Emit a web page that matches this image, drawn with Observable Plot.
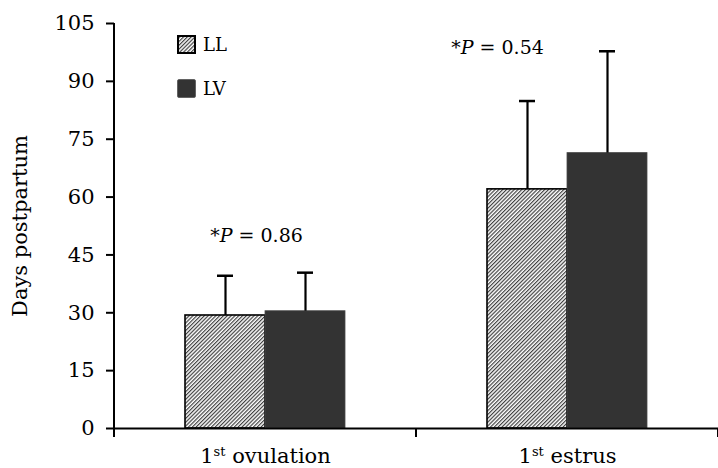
<!DOCTYPE html>
<html><head><meta charset="utf-8">
<script src="https://cdn.jsdelivr.net/npm/d3@7"></script>
<script src="https://cdn.jsdelivr.net/npm/@observablehq/plot@0.6"></script>
<style>
body{margin:0;background:#fff;}
#wrap{position:relative;width:718px;height:468px;font-family:"DejaVu Serif",serif;}
.leg{position:absolute;left:177px;display:flex;align-items:center;font-size:18px;line-height:19px;color:#000;}
.leg svg{margin-right:7px;display:block;}
</style></head><body><div id="wrap"></div>
<script>
// ---- data ----
const categories = ["1st ovulation", "1st estrus"];
const groups = ["LL", "LV"];
const llMean = [29.3, 62.0];
const llUpper = [39.6, 84.9];
const lvMean = [30.4, 71.4];
const lvUpper = [40.4, 97.8];
const pLabels = ["*P = 0.86", "*P = 0.54"];
const pY = [50.0, 98.6];
const yTicks = [0, 15, 30, 45, 60, 75, 90, 105];

const FONT = '"DejaVu Serif",serif';

const rows = [];
categories.forEach((c, i) => {
  rows.push({category: c, group: "LL", mean: llMean[i], upper: llUpper[i]});
  rows.push({category: c, group: "LV", mean: lvMean[i], upper: lvUpper[i]});
});
const ann = categories.map((c, i) => ({category: c, label: pLabels[i], y: pY[i]}));

const chart = Plot.plot({
  width: 718, height: 468,
  marginLeft: 114, marginRight: 0, marginTop: 23, marginBottom: 40,
  style: {fontFamily: FONT, fontSize: "21px", color: "#000", background: "#fff", overflow: "visible"},
  fx: {domain: categories, padding: 0, label: null, tickSize: 0, tickPadding: 20},
  x: {domain: groups, paddingInner: 0, paddingOuter: 0.876, axis: null},
  y: {domain: [0, 105], ticks: yTicks, tickSize: 8, tickPadding: 12, label: "Days postpartum",
      labelAnchor: "center", labelArrow: "none", labelOffset: 102},
  marks: [
    Plot.barY(rows.filter(d => d.group === "LL"), {fx: "category", x: "group", y: "mean",
      fill: "url(#hatchLL)", stroke: "#000", strokeWidth: 1.6}),
    Plot.barY(rows.filter(d => d.group === "LV"), {fx: "category", x: "group", y: "mean",
      fill: "#333333", stroke: "#4a4a4a", strokeWidth: 0.8}),
    Plot.ruleX(rows, {fx: "category", x: "group", y1: "mean", y2: "upper", stroke: "#000", strokeWidth: 2.2}),
    Plot.tickY(rows, {fx: "category", x: "group", y: "upper", stroke: "#000", strokeWidth: 2.5,
      insetLeft: 32, insetRight: 32}),
    Plot.ruleY([0], {stroke: "#000", strokeWidth: 2}),
    Plot.text(ann.slice(0, 1), {fx: "category", y: "y", text: "label", dx: -9, fontSize: 19, className: "pann"}),
    Plot.text(ann.slice(1, 2), {fx: "category", y: "y", text: "label", dx: -70, fontSize: 19, className: "pann"})
  ]
});

// hatch pattern definition
const svg = d3.select(chart);
const defs = svg.insert("defs", ":first-child");
const pat = defs.append("pattern").attr("id", "hatchLL").attr("patternUnits", "userSpaceOnUse")
  .attr("width", 2.7).attr("height", 2.7).attr("patternTransform", "rotate(45)");
pat.append("rect").attr("width", 2.7).attr("height", 2.7).attr("fill", "#fff");
pat.append("line").attr("x1", 0.6).attr("x2", 0.6).attr("y1", 0).attr("y2", 2.7)
  .attr("stroke", "#383838").attr("stroke-width", 1.15);

// axis lines and category boundary ticks from the library's scales
const fxS = chart.scale("fx");
const yS = chart.scale("y");
const band = d3.scaleBand().domain(fxS.domain).range(fxS.range)
  .paddingInner(fxS.paddingInner ?? 0).paddingOuter(fxS.paddingOuter ?? 0).align(fxS.align ?? 0.5);
const y0 = yS.apply(0), yTop = yS.apply(105);
const ax = svg.append("g").attr("stroke", "#000").attr("stroke-width", 2);
const left = band(fxS.domain[0]);
ax.append("line").attr("x1", left).attr("x2", left).attr("y1", yTop).attr("y2", y0 + 9);
const bounds = fxS.domain.map(d => band(d)).concat([band(fxS.domain[fxS.domain.length - 1]) + band.bandwidth()]);
bounds.forEach(b => ax.append("line").attr("x1", b).attr("x2", b).attr("y1", y0).attr("y2", y0 + 9));
svg.selectAll("g[aria-label='y-axis tick'] path, g[aria-label='y-axis tick'] line").attr("stroke-width", 2);

// italic P in annotations
svg.selectAll(".pann text").each(function() {
  const t = this.textContent;
  const m = t.match(/^(\*)(P)(.*)$/);
  if (!m) return;
  const el = d3.select(this); el.text(null);
  el.append("tspan").text(m[1]);
  el.append("tspan").attr("font-style", "italic").text(m[2]);
  el.append("tspan").text(m[3]);
});
// superscript ordinal in category labels
svg.selectAll("g[aria-label='fx-axis tick label'] text").each(function() {
  const t = this.textContent;
  const m = t.match(/^(\d+)(st|nd|rd|th)(.*)$/);
  if (!m) return;
  const el = d3.select(this); el.text(null);
  el.append("tspan").text(m[1]);
  el.append("tspan").attr("font-size", "13px").attr("dy", "-7").text(m[2]);
  el.append("tspan").attr("dy", "7").text(m[3]);
});

const wrap = document.getElementById("wrap");
wrap.appendChild(chart);

// legend
const legItems = [
  {name: groups[0], top: 35, swatch: '<svg width="19" height="19"><defs><pattern id="hatchLeg" patternUnits="userSpaceOnUse" width="2.7" height="2.7" patternTransform="rotate(45)"><rect width="2.7" height="2.7" fill="#fff"/><line x1="0.6" x2="0.6" y1="0" y2="2.7" stroke="#383838" stroke-width="1.15"/></pattern></defs><rect x="1" y="1" width="17" height="17" fill="url(#hatchLeg)" stroke="#000" stroke-width="2"/></svg>'},
  {name: groups[1], top: 79, swatch: '<svg width="19" height="19"><rect x="0.5" y="0.5" width="18" height="18" rx="1.5" fill="#333" stroke="#555" stroke-width="0.8"/></svg>'}
];
legItems.forEach(it => {
  const d = document.createElement("div");
  d.className = "leg";
  d.style.top = it.top + "px";
  d.innerHTML = it.swatch + "<span>" + it.name + "</span>";
  wrap.appendChild(d);
});
</script></body></html>
